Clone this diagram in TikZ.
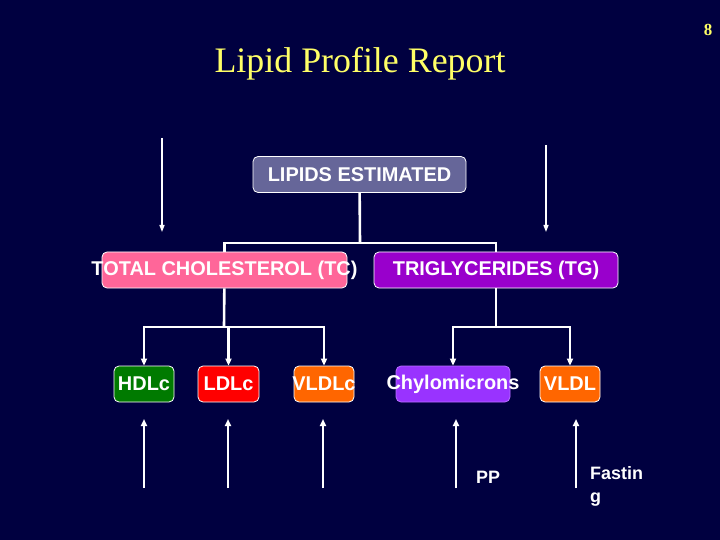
\documentclass[tikz,border=0pt]{standalone}
\usepackage{fontspec}
\setmainfont{Liberation Sans}
\newfontfamily\titlefont{Liberation Serif}
\usepackage{xcolor}
\definecolor{slidebg}{HTML}{000040}
\definecolor{titleyellow}{HTML}{FFFF66}
\definecolor{lipidgray}{HTML}{666699}
\definecolor{tcpink}{HTML}{FF6699}
\definecolor{tgpurple}{HTML}{9900CC}
\definecolor{hdlgreen}{HTML}{007A00}
\definecolor{ldlred}{HTML}{FF0000}
\definecolor{vldlorange}{HTML}{FF6600}
\definecolor{chylopurple}{HTML}{9933FF}
\usetikzlibrary{
  positioning,
  arrows.meta
}
\newcommand{\ovr}[1]{\makebox[0pt]{#1}}

\begin{document}
\begin{tikzpicture}[
  x=1bp, y=-1bp,
  every node/.style={
    font=\fontsize{20}{24}\selectfont\bfseries,
    text=white
  },
  box/.style={
    draw=white,
    line width=0.8bp,
    rounded corners=5bp,
    minimum height=36bp,
    inner sep=0pt
  },
  tree/.style={
    draw=white,
    line width=2.6bp
  },
  arr/.style={
    -{Triangle[length=7bp, width=6bp]},
    draw=white,
    line width=2.6bp
  },
  thinarr/.style={
    -{Triangle[length=7bp, width=5bp]},
    draw=white,
    line width=1.3bp
  },
  note/.style={
    font=\fontsize{18}{23}\selectfont\bfseries,
    align=left
  }
]

% Slide background
\fill[slidebg] (0,0) rectangle (720,540);
\useasboundingbox (0,0) rectangle (720,540);

% Title and page number
\node[font=\titlefont\fontsize{36}{40}\selectfont, text=titleyellow] (title)
  at (360,64) {Lipid Profile Report};
\node[font=\titlefont\bfseries\fontsize{17}{19}\selectfont, text=titleyellow] (pagenum)
  at (708,30) {8};

% Row 1: Lipids estimated
\node[box, fill=lipidgray, minimum width=213bp] (lipids) at (359.5,174.5)
  {LIPIDS ESTIMATED};

% Row 2: TC and TG
\node[box, fill=tcpink, minimum width=245bp] (tc) at (224.5,270)
  {\ovr{TOTAL CHOLESTEROL (TC)}};
\node[box, fill=tgpurple, minimum width=244bp] (tg) at (496,270)
  {TRIGLYCERIDES (TG)};

% Row 3: fractions
\node[box, fill=hdlgreen, minimum width=60bp] (hdl) at (144,384) {HDLc};
\node[box, fill=ldlred, minimum width=61bp] (ldl) at (228.5,384) {LDLc};
\node[box, fill=vldlorange, minimum width=60bp] (vldlc) at (324,384)
  {\ovr{VLDLc}};
\node[box, fill=chylopurple, draw=chylopurple!70!white, minimum width=114bp]
  (chylo) at (453,384) {\ovr{Chylomicrons}};
\node[box, fill=vldlorange, minimum width=60bp] (vldl) at (570,384) {VLDL};

% Branch points
\coordinate (split) at (360,243);
\coordinate (tcsplit) at (224,327);
\coordinate (tgsplit) at (496,327);

% Tree lines
\draw[tree] (lipids) -- (split);
\draw[tree] (tc.north) |- (split) -| (tg.north);
\draw[tree] (tc) -- (tcsplit);
\draw[tree] (tg) -- (tgsplit);
\draw[arr] (tcsplit) -| (hdl);
\draw[arr] (tcsplit) -| (ldl);
\draw[arr] (tcsplit) -| (vldlc);
\draw[arr] (tgsplit) -| (chylo);
\draw[arr] (tgsplit) -| (vldl);

% Side arrows at the top
\coordinate (leftstart) at (162,138);
\coordinate (leftend) at (162,232);
\coordinate (rightstart) at (546,145);
\coordinate (rightend) at (546,232);
\draw[thinarr] (leftstart) -- (leftend);
\draw[thinarr] (rightstart) -- (rightend);

% Arrows from below
\coordinate (hdlbot) at (144,488);
\coordinate (hdltop) at (144,419);
\coordinate (ldlbot) at (228,488);
\coordinate (ldltop) at (228,419);
\coordinate (vldlcbot) at (323,488);
\coordinate (vldlctop) at (323,419);
\coordinate (chylobot) at (456,488);
\coordinate (chylotop) at (456,419);
\coordinate (vldlbot) at (576,488);
\coordinate (vldltop) at (576,419);
\draw[arr] (hdlbot) -- (hdltop);
\draw[arr] (ldlbot) -- (ldltop);
\draw[arr] (vldlcbot) -- (vldlctop);
\draw[arr] (chylobot) -- (chylotop);
\draw[arr] (vldlbot) -- (vldltop);

% Sample labels
\node[note, anchor=west, inner sep=0pt] (pp) at (476,477) {PP};
\node[note, anchor=north west, inner sep=0pt] (fasting) at (590,466)
  {Fastin\\g};

\end{tikzpicture}
\end{document}
